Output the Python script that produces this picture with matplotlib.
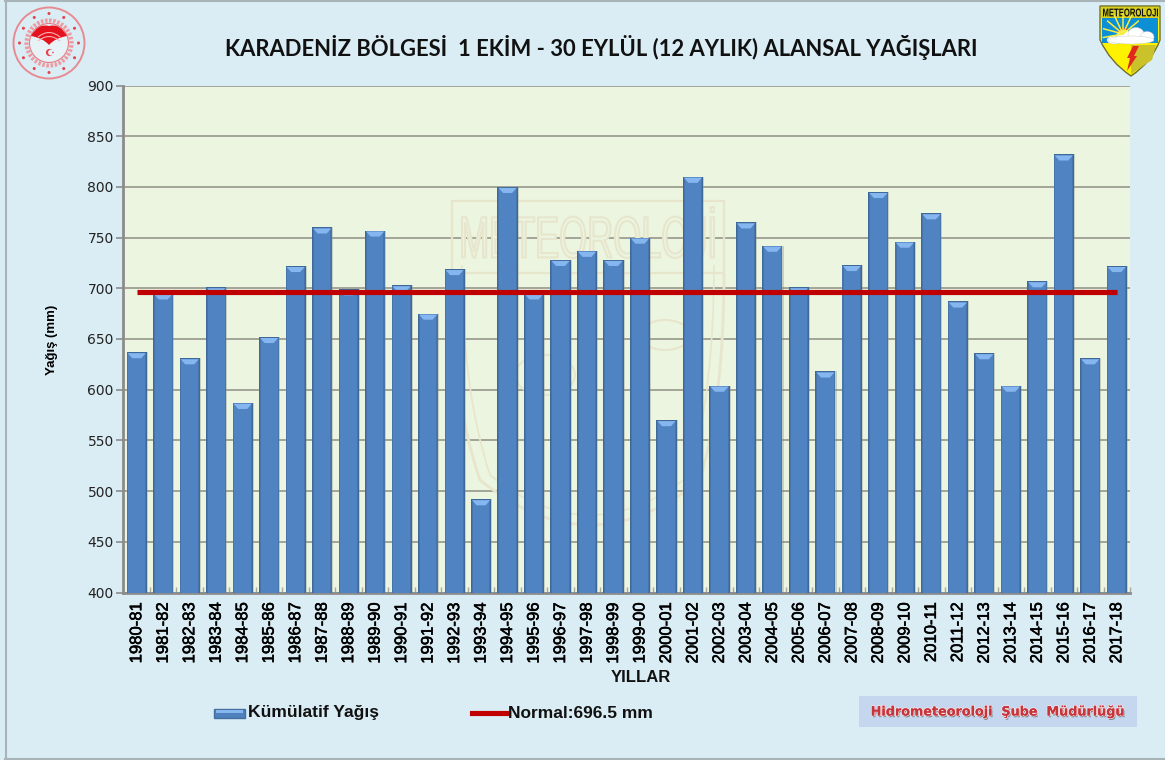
import numpy as np
import matplotlib
matplotlib.use('Agg')
import matplotlib.pyplot as plt
import matplotlib.patheffects as pe
from matplotlib.font_manager import FontProperties
from matplotlib.lines import Line2D
from matplotlib.patches import Circle, Polygon, Rectangle, PathPatch, Ellipse
from matplotlib.path import Path
from matplotlib.textpath import TextPath
from matplotlib.transforms import Affine2D

W, H = 1165, 760

years = ['1980-81', '1981-82', '1982-83', '1983-84', '1984-85', '1985-86', '1986-87', '1987-88',
         '1988-89', '1989-90', '1990-91', '1991-92', '1992-93', '1993-94', '1994-95', '1995-96',
         '1996-97', '1997-98', '1998-99', '1999-00', '2000-01', '2001-02', '2002-03', '2003-04',
         '2004-05', '2005-06', '2006-07', '2007-08', '2008-09', '2009-10', '2010-11', '2011-12',
         '2012-13', '2013-14', '2014-15', '2015-16', '2016-17', '2017-18']
rain = [637, 695, 631, 701, 587, 652, 722, 760, 699, 757, 703, 675, 719, 492, 800, 695, 728, 737, 728,
        750, 570, 810, 604, 765, 742, 701, 618, 723, 795, 746, 774, 687, 636, 604, 707, 832, 631, 722]
normal = 696.5
y_ticks = list(range(400, 901, 50))

BG = '#daedf4'
PLOT_BG = '#ecf5df'
GREY = '#8c8c8c'
BLUE = '#4f81bd'
RED = '#c00000'

fig = plt.figure(figsize=(W / 100, H / 100), dpi=100, facecolor=BG)
# picture pixels, origin top left
px = Affine2D().scale(1, -1).translate(0, H)


def boxed_text(s, x0, y0, x1, y1, weight='bold', **kw):
    # text outline stretched into a pixel box
    tp = TextPath((0, 0), s, size=10, prop=FontProperties(family='Liberation Sans', weight=weight))
    b = tp.get_extents()
    tr = (Affine2D().translate(-b.x0, -b.y0).scale((x1 - x0) / b.width, (y1 - y0) / b.height)
          .translate(x0, H - y1))
    return PathPatch(tp, transform=tr, **kw)


ax = fig.add_axes([123.5 / W, 1 - 592.5 / H, (1130 - 123.5) / W, (592.5 - 85.5) / H])
ax.set_facecolor(PLOT_BG)

# watermark behind the bars
WM = '#e7e6cd'
ax.add_patch(Rectangle((452, 201), 272, 72, fc='none', ec=WM, lw=1.6, transform=px, zorder=1))
ax.add_patch(boxed_text('METEOROLOJİ', 462, 207, 714, 258, weight='normal', fc=PLOT_BG, ec=WM, lw=1.5, zorder=1))
shield = Path([(452, 273), (452, 400), (480, 480), (590, 570), (700, 480), (724, 400), (724, 273)],
              [1, 3, 3, 3, 3, 3, 3])
inner = Path([(462, 265), (462, 390), (490, 475), (590, 555), (690, 475), (714, 390), (714, 265)],
             [1, 3, 3, 3, 3, 3, 3])
ax.add_patch(PathPatch(shield, fc='none', ec=WM, lw=2, transform=px, zorder=1))
ax.add_patch(PathPatch(inner, fc='none', ec=WM, lw=1.2, transform=px, zorder=1))
ax.add_patch(Ellipse((545, 375), 60, 40, fc='none', ec=WM, lw=1.5, transform=px, zorder=1))
ax.add_patch(Ellipse((665, 335), 50, 30, fc='none', ec=WM, lw=1.5, transform=px, zorder=1))

# bars: soft shadow, dark edge, inner face and a light bevel on top
x = np.arange(len(years))
ax.bar(x + 0.02, rain, width=0.80, color='#7d8a8f', alpha=0.35, zorder=2.5)
ax.bar(x, rain, width=0.76, color='#3e6898', zorder=3)
ax.bar(x, np.array(rain) - 0.6, width=0.71, color='#4674ab', zorder=3.05)
ax.bar(x, np.array(rain) - 0.6, width=0.63, color='#5083c2', zorder=3.1)
for xi, v in zip(x, rain):
    ax.add_patch(Polygon([(xi - 0.34, v - 1), (xi + 0.34, v - 1), (xi + 0.17, v - 6), (xi - 0.17, v - 6)],
                         fc='#86b6f0', ec='none', zorder=3.2))

ax.plot(x, [normal] * len(x), color=RED, lw=3.7, solid_capstyle='butt', zorder=4)

ax.set_xlim(-0.5, len(years) - 0.5)
ax.set_ylim(400, 900)
ax.set_yticks(y_ticks)
ax.set_xticks(x)
ax.set_xticklabels(years, rotation=90, family='Liberation Sans', fontsize=12, color='black',
                   path_effects=[pe.withStroke(linewidth=0.4, foreground='black')])
ax.set_xticks(np.arange(len(years) + 1) - 0.5, minor=True)
ax.tick_params(axis='x', which='major', length=0, pad=7)
ax.tick_params(axis='x', which='minor', length=4, width=1, color='#a8a8a0', direction='in')
ax.tick_params(axis='y', length=5, width=1.2, color=GREY, labelsize=10, pad=2, labelcolor='#222222')
ax.grid(axis='y', color='#8f8f86', lw=1.1, zorder=2)
ax.set_axisbelow(True)
for side in ['left', 'bottom']:
    ax.spines[side].set_color(GREY)
    ax.spines[side].set_linewidth(2)
for side in ['top', 'right']:
    ax.spines[side].set_visible(False)

fig.text(601 / W, 1 - 47 / H, 'KARADENİZ BÖLGESİ  1 EKİM - 30 EYLÜL (12 AYLIK) ALANSAL YAĞIŞLARI',
         ha='center', va='center', family='Lato', fontweight='bold', fontsize=15.8, color='#111111')
fig.text(52 / W, 1 - 340 / H, 'Yağış (mm)', rotation=90, ha='center', va='center',
         family='Liberation Sans', fontweight='bold', fontsize=9.5, color='black')
fig.text(641 / W, 1 - 677 / H, 'YILLAR', ha='center', va='center',
         family='Liberation Sans', fontweight='bold', fontsize=12, color='#111111')

# legend
fig.add_artist(Rectangle((214, 709), 31, 9, fc='#4f81bd', ec='#44709f', lw=1, transform=px))
fig.add_artist(Rectangle((216, 710), 27, 3, fc='#86b6f0', ec='none', transform=px))
fig.text(248 / W, 1 - 713 / H, 'Kümülatif Yağış', ha='left', va='center',
         family='Liberation Sans', fontweight='bold', fontsize=12.6, color='#111111')
fig.add_artist(Line2D([472, 508], [713, 713], color=RED, lw=3.7, transform=px))
fig.text(508 / W, 1 - 713 / H, 'Normal:696.5 mm', ha='left', va='center',
         family='Liberation Sans', fontweight='bold', fontsize=12.5, color='#111111')

# department box
fig.add_artist(Rectangle((859, 696), 278, 31, fc='#c5d6ef', ec='none', transform=px))
fig.text(998 / W, 1 - 712 / H, 'Hidrometeoroloji  Şube  Müdürlüğü', ha='center', va='center',
         family='DejaVu Sans', fontweight='bold', fontsize=9.2, color='#c8343c',
         path_effects=[pe.withSimplePatchShadow(offset=(0.8, -1.2), shadow_rgbFace='#444444', alpha=0.6),
                       pe.withStroke(linewidth=1.2, foreground='#f6e6e6'), pe.Normal()])

# frame of the slide
fig.add_artist(Line2D([5.5, 5.5], [0, 758], color='#a9b4b8', lw=1.5, transform=px))
fig.add_artist(Line2D([5, W], [0.5, 0.5], color='#a9b4b8', lw=1.5, transform=px))
fig.add_artist(Line2D([5, W], [758.5, 758.5], color='#a9b4b8', lw=1.5, transform=px))

# left emblem
cx, cy = 49, 43
fig.add_artist(Circle((cx, cy), 35.5, fc=BG, ec='#e88a92', lw=1.4, transform=px))
fig.add_artist(Circle((cx, cy), 22.5, fc='none', ec='#ee9aa2', lw=3, ls=(0, (0.6, 0.4)), transform=px))
fig.add_artist(Circle((cx, cy), 19.5, fc='#e6f2f5', ec='#e67a84', lw=0.8, transform=px))
for a in np.arange(0, 360, 30) + 0:
    fig.add_artist(Circle((cx + 29.5 * np.cos(np.radians(a)), cy + 29.5 * np.sin(np.radians(a))), 1.5,
                          fc='#e8404c', ec='none', transform=px))
fan = Path([(31, 36), (38, 23), (49, 26), (60, 23), (67, 36), (55, 38), (49, 45), (43, 38), (31, 36)],
           [1, 3, 3, 3, 3, 3, 3, 3, 3])
fig.add_artist(PathPatch(fan, fc='#e5121d', ec='none', transform=px))
for y0, c in [(37, 30), (41, 34)]:
    arc = Path([(38, y0), (49, c - 2), (60, y0)], [1, 3, 3])
    fig.add_artist(PathPatch(arc, fc='none', ec='#f7b0b4', lw=0.8, transform=px))
fig.add_artist(Circle((49.5, 52.5), 3.6, fc='#e8404c', ec='none', transform=px))
fig.add_artist(Circle((51, 52.5), 2.9, fc='#e6f2f5', ec='none', transform=px))
fig.add_artist(Circle((53, 52.5), 0.8, fc='#e8404c', ec='none', transform=px))

# right shield
sh = Path([(1100, 6), (1160, 6), (1160, 40), (1152, 62), (1131, 76), (1110, 62), (1100, 40), (1100, 6)],
          [1, 2, 2, 3, 3, 3, 3, 79])
fig.add_artist(PathPatch(sh, fc='#fff200', ec='#6e6e30', lw=1, transform=px))
fig.add_artist(Rectangle((1102, 18), 56, 25, fc='#0d8fd6', ec='none', transform=px))
fig.add_artist(Rectangle((1101, 7), 58, 11, fc='#d8d020', ec='none', transform=px))
fig.add_artist(boxed_text('METEOROLOJI', 1103, 8.5, 1158, 16.5, fc='#111111', ec='none'))
for a in [170, 195, 220, 245, 270, 295, 320]:
    fig.add_artist(Line2D([1123, 1123 + 20 * np.cos(np.radians(a))], [34, 34 + 20 * np.sin(np.radians(a))],
                          color='#f4ee40', lw=1.1, transform=px))
fig.add_artist(Circle((1123, 33), 5.5, fc='#e03020', ec='none', transform=px))
for ex, ey, ew, eh in [(1114, 40, 14, 8), (1124, 36, 15, 12), (1136, 34, 16, 13), (1147, 37, 14, 11),
                       (1131, 40, 46, 8)]:
    fig.add_artist(Ellipse((ex, ey), ew, eh, fc='white', ec='#c8c8c8', lw=0.3, transform=px))
low = Path([(1131, 45), (1156, 45), (1152, 60), (1131, 74), (1131, 45)], [1, 2, 2, 2, 79])
fig.add_artist(PathPatch(low, fc='#c9c22a', ec='none', transform=px))
fig.add_artist(Polygon([(1133, 46), (1139, 46), (1134, 56), (1137, 56), (1127, 71), (1130, 58), (1127, 58)],
                       fc='#e0281c', ec='none', transform=px))

fig.savefig('out.png', dpi=100, facecolor=BG)
